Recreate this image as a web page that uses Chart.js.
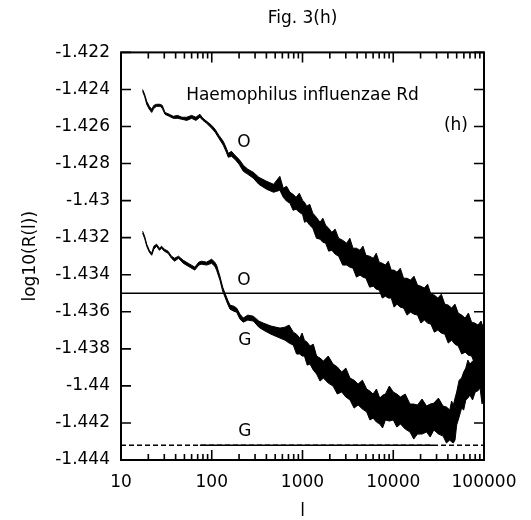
<!DOCTYPE html>
<html>
<head>
<meta charset="utf-8">
<script src="https://cdn.jsdelivr.net/npm/chart.js@4.4.1/dist/chart.umd.min.js"></script>
<style>
  html, body { margin: 0; padding: 0; background: #fff; }
  #wrap { width: 531px; height: 520px; }
</style>
</head>
<body>
<div id="wrap"><canvas id="chart" width="531" height="520"></canvas></div>
<script>
// x axis range and y axis ticks
const xRange = [10, 100000];
const yMin = -1.444;
const yMax = -1.422;
const yStep = 0.002;

const oL = [17.3, 18.2, 19.2, 20.5, 21.8, 23, 24.7, 27, 28.5, 30.5,
  34, 37.7, 42, 47, 53, 60, 67, 74, 80, 88,
  100, 109, 120, 134, 145, 152, 165, 180, 200, 223,
  250, 287, 330, 403, 480,
  563, 614, 668, 728, 787, 850, 922, 1000, 1054, 1111,
  1202, 1300, 1424, 1560, 1676, 1800, 1944, 2100, 2291, 2500,
  2770, 3069, 3324, 3600, 3934, 4300, 4637, 5000, 5491, 6030,
  6497, 7000, 7576, 8200, 8826, 9500, 10223, 11000, 11958, 13000,
  14195, 15500, 16934, 18500, 20175, 22000, 23916, 26000, 28390, 31000,
  33867, 37000, 40348, 44000, 47833, 52000, 56780, 62000, 67275, 73000,
  79234, 86000, 92736, 100000];
const oTop = [-1.42400, -1.42426, -1.42464, -1.42491, -1.42507, -1.42486, -1.42480, -1.42480, -1.42486, -1.42524,
  -1.42534, -1.42545, -1.42540, -1.42550, -1.42550, -1.42540, -1.42550, -1.42534, -1.42556, -1.42572,
  -1.42594, -1.42615, -1.42648, -1.42680, -1.42718, -1.42745, -1.42734, -1.42755, -1.42777, -1.42809,
  -1.42831, -1.42847, -1.42874, -1.42896, -1.42912,
  -1.42869, -1.42933, -1.42923, -1.42955, -1.42966, -1.42982, -1.42960, -1.42998, -1.43009, -1.43030,
  -1.43020, -1.43068, -1.43090, -1.43117, -1.43095, -1.43133, -1.43149, -1.43171, -1.43154, -1.43203,
  -1.43214, -1.43230, -1.43203, -1.43257, -1.43257, -1.43268, -1.43246, -1.43295, -1.43300, -1.43311,
  -1.43284, -1.43332, -1.43338, -1.43348, -1.43327, -1.43375, -1.43375, -1.43386, -1.43365, -1.43419,
  -1.43419, -1.43429, -1.43408, -1.43456, -1.43462, -1.43472, -1.43451, -1.43505, -1.43510, -1.43526,
  -1.43505, -1.43559, -1.43564, -1.43580, -1.43559, -1.43607, -1.43618, -1.43634, -1.43607, -1.43656,
  -1.43661, -1.43672, -1.43650, -1.43699];
const oBot = [-1.42410, -1.42437, -1.42480, -1.42507, -1.42524, -1.42502, -1.42491, -1.42491, -1.42502, -1.42534,
  -1.42545, -1.42556, -1.42556, -1.42561, -1.42567, -1.42556, -1.42567, -1.42550, -1.42567, -1.42583,
  -1.42610, -1.42631, -1.42664, -1.42701, -1.42739, -1.42766, -1.42761, -1.42777, -1.42804, -1.42842,
  -1.42858, -1.42879, -1.42912, -1.42939, -1.42955,
  -1.42944, -1.42982, -1.43003, -1.43014, -1.43052, -1.43047, -1.43063, -1.43074, -1.43117, -1.43111,
  -1.43133, -1.43149, -1.43203, -1.43208, -1.43225, -1.43230, -1.43273, -1.43268, -1.43289, -1.43300,
  -1.43348, -1.43348, -1.43359, -1.43365, -1.43413, -1.43402, -1.43413, -1.43419, -1.43467, -1.43462,
  -1.43478, -1.43483, -1.43526, -1.43516, -1.43526, -1.43526, -1.43575, -1.43559, -1.43575, -1.43580,
  -1.43618, -1.43602, -1.43613, -1.43618, -1.43661, -1.43645, -1.43661, -1.43667, -1.43710, -1.43699,
  -1.43715, -1.43721, -1.43769, -1.43753, -1.43775, -1.43785, -1.43828, -1.43818, -1.43834, -1.43839,
  -1.43882, -1.43861, -1.43872, -1.43872];

// "G" curve (lower)
const gL = [17.3, 18.2, 19.2, 20.5, 21.8, 23, 24.7, 26.5, 28, 30,
  33, 36, 39, 43, 48.5, 55, 65, 72, 77, 88,
  99.6, 108, 113, 123, 132, 140, 150, 159, 175, 188,
  205, 222, 250, 287, 330, 370, 450,
  565, 640, 712, 792, 860, 933, 990, 1050, 1127, 1210,
  1315, 1430, 1559, 1700, 1921, 2170, 2421, 2700, 3003, 3340,
  3700, 4100, 4573, 5100, 5532, 6000, 6527, 7100, 7630, 8200,
  9055, 10000, 10954, 12000, 13550, 15300, 16824, 18500, 20762, 23300,
  25541, 28000, 31483, 35400, 38560, 42000, 43950, 46000, 47958, 50000,
  53200, 56600, 59715, 63000, 66408, 70000, 74833, 80000, 85100, 90500,
  95131, 100000];
const gTop = [-1.43165, -1.43192, -1.43235, -1.43268, -1.43284, -1.43246, -1.43235, -1.43257, -1.43246, -1.43262,
  -1.43273, -1.43300, -1.43311, -1.43300, -1.43322, -1.43338, -1.43359, -1.43332, -1.43327, -1.43332,
  -1.43316, -1.43332, -1.43348, -1.43408, -1.43467, -1.43500, -1.43537, -1.43564, -1.43570, -1.43580,
  -1.43613, -1.43634, -1.43618, -1.43624, -1.43650, -1.43661, -1.43677,
  -1.43688, -1.43683, -1.43672, -1.43710, -1.43721, -1.43742, -1.43715, -1.43753, -1.43764, -1.43785,
  -1.43775, -1.43839, -1.43850, -1.43866, -1.43839, -1.43882, -1.43898, -1.43925, -1.43904, -1.43958,
  -1.43969, -1.43990, -1.43969, -1.44017, -1.44028, -1.44044, -1.44017, -1.44066, -1.44050, -1.44044,
  -1.44001, -1.44033, -1.44044, -1.44060, -1.44044, -1.44098, -1.44098, -1.44103, -1.44071, -1.44109,
  -1.44098, -1.44093, -1.44066, -1.44109, -1.44114, -1.44130, -1.44082, -1.44103, -1.44066, -1.44033,
  -1.43969, -1.43958, -1.43925, -1.43904, -1.43861, -1.43882, -1.43866, -1.43861, -1.43818, -1.43850,
  -1.43850, -1.43861];
const gBot = [-1.43176, -1.43203, -1.43246, -1.43278, -1.43295, -1.43262, -1.43246, -1.43268, -1.43257, -1.43273,
  -1.43284, -1.43311, -1.43327, -1.43311, -1.43338, -1.43354, -1.43375, -1.43348, -1.43343, -1.43348,
  -1.43338, -1.43354, -1.43375, -1.43429, -1.43489, -1.43521, -1.43559, -1.43586, -1.43597, -1.43602,
  -1.43640, -1.43656, -1.43645, -1.43650, -1.43683, -1.43699, -1.43721,
  -1.43742, -1.43753, -1.43769, -1.43780, -1.43828, -1.43828, -1.43839, -1.43839, -1.43888, -1.43882,
  -1.43915, -1.43936, -1.43974, -1.43958, -1.43985, -1.44001, -1.44044, -1.44033, -1.44060, -1.44076,
  -1.44120, -1.44103, -1.44125, -1.44141, -1.44184, -1.44174, -1.44195, -1.44206, -1.44227, -1.44184,
  -1.44190, -1.44184, -1.44222, -1.44206, -1.44233, -1.44249, -1.44287, -1.44260, -1.44260, -1.44249,
  -1.44276, -1.44238, -1.44260, -1.44271, -1.44308, -1.44292, -1.44303, -1.44308, -1.44292, -1.44211,
  -1.44168, -1.44120, -1.44130, -1.44076, -1.44066, -1.44050, -1.44076, -1.44033, -1.44028, -1.44012,
  -1.44098, -1.44076];

// reference levels
const levelO = -1.435;
const levelG = -1.4432;
const levelGSolid = [74, 27500];

// x tick marks: decades and the minor steps inside each decade
const decades = [10, 100, 1000, 10000];
const minorSteps = [1, 2, 3, 4, 5, 6, 7, 8, 9];

// text inside the plot: [text, l, value]
const notes = [
  ['Haemophilus influenzae Rd', 1000, -1.42432],
  ['(h)', 49100, -1.42594],
  ['O', 226, -1.42685],
  ['O', 226, -1.43429],
  ['G', 232, -1.43753],
  ['G', 232, -1.44249]
];

const FONT = '"DejaVu Sans", sans-serif';
const pts = (xs, ys) => xs.map((l, i) => ({ x: l, y: ys[i] }));

const edge = (xs, ys, fill) => ({
  data: pts(xs, ys),
  borderColor: '#000',
  backgroundColor: '#000',
  borderWidth: 1,
  pointRadius: 0,
  tension: 0,
  fill: fill
});

// frame, inward ticks on all four sides, and the text inside the plot
const frameTicks = {
  id: 'frameTicks',
  afterDraw(chart) {
    const ctx = chart.ctx;
    const a = chart.chartArea;
    const xs = chart.scales.x;
    const ys = chart.scales.y;
    ctx.save();
    ctx.strokeStyle = '#000';
    ctx.lineWidth = 1.6;
    ctx.lineCap = 'butt';

    ctx.beginPath();
    decades.forEach(d => {
      minorSteps.forEach(k => {
        const v = d * k;
        if (v <= xRange[0] || v >= xRange[1]) return;
        const px = xs.getPixelForValue(v);
        const len = k === 1 ? 10 : 6;
        ctx.moveTo(px, a.bottom);
        ctx.lineTo(px, a.bottom - len);
        ctx.moveTo(px, a.top);
        ctx.lineTo(px, a.top + len);
      });
    });
    ys.ticks.forEach(t => {
      const py = ys.getPixelForValue(t.value);
      ctx.moveTo(a.left, py);
      ctx.lineTo(a.left + 10, py);
      ctx.moveTo(a.right, py);
      ctx.lineTo(a.right - 10, py);
    });
    ctx.stroke();

    ctx.lineWidth = 2;
    ctx.strokeRect(a.left, a.top, a.right - a.left, a.bottom - a.top);

    ctx.fillStyle = '#000';
    ctx.font = '17px ' + FONT;
    ctx.textAlign = 'center';
    ctx.textBaseline = 'middle';
    notes.forEach(([t, l, v]) => {
      ctx.fillText(t, xs.getPixelForValue(l), ys.getPixelForValue(v));
    });
    ctx.restore();
  }
};

new Chart(document.getElementById('chart'), {
  type: 'line',
  data: {
    datasets: [
      edge(oL, oTop, false),
      edge(oL, oBot, '-1'),
      edge(gL, gTop, false),
      edge(gL, gBot, '-1'),
      {
        data: [{ x: xRange[0], y: levelO }, { x: xRange[1], y: levelO }],
        borderColor: '#000', borderWidth: 1.5, pointRadius: 0, fill: false
      },
      {
        data: [{ x: xRange[0], y: levelG }, { x: xRange[1], y: levelG }],
        borderColor: '#000', borderWidth: 1.5, borderDash: [5, 3], pointRadius: 0, fill: false
      },
      {
        data: [{ x: levelGSolid[0], y: levelG }, { x: levelGSolid[1], y: levelG }],
        borderColor: '#000', borderWidth: 1.5, pointRadius: 0, fill: false
      }
    ]
  },
  options: {
    responsive: false,
    animation: false,
    layout: { padding: { top: 0, right: 47, bottom: 0, left: 0 } },
    plugins: {
      legend: { display: false },
      tooltip: { enabled: false },
      title: {
        display: true,
        text: 'Fig. 3(h)',
        fullSize: false,
        color: '#000',
        font: { family: FONT, size: 17, weight: 'normal' },
        padding: { top: 8, bottom: 24 }
      }
    },
    scales: {
      x: {
        type: 'logarithmic',
        min: xRange[0],
        max: xRange[1],
        grid: { display: false, drawTicks: false },
        border: { display: false },
        afterFit: s => { s.height = 60; },
        ticks: {
          autoSkip: false,
          maxRotation: 0,
          padding: 12,
          color: '#000',
          font: { family: FONT, size: 17 },
          callback: v => {
            const e = Math.log10(v);
            return Math.abs(e - Math.round(e)) < 1e-9 ? String(Math.round(v)) : '';
          }
        },
        title: {
          display: true,
          text: 'l',
          color: '#000',
          font: { family: FONT, size: 17 },
          padding: { top: 0, bottom: -2 }
        }
      },
      y: {
        min: yMin,
        max: yMax,
        grid: { display: false, drawTicks: false },
        border: { display: false },
        afterFit: s => { s.width = 121; },
        ticks: {
          stepSize: yStep,
          padding: 11,
          color: '#000',
          font: { family: FONT, size: 17 },
          callback: v => String(Number(v.toFixed(3)))
        },
        title: {
          display: true,
          text: 'log10(R(l))',
          color: '#000',
          font: { family: FONT, size: 17 },
          padding: { top: 20, bottom: 0 }
        }
      }
    }
  },
  plugins: [frameTicks]
});
</script>
</body>
</html>
